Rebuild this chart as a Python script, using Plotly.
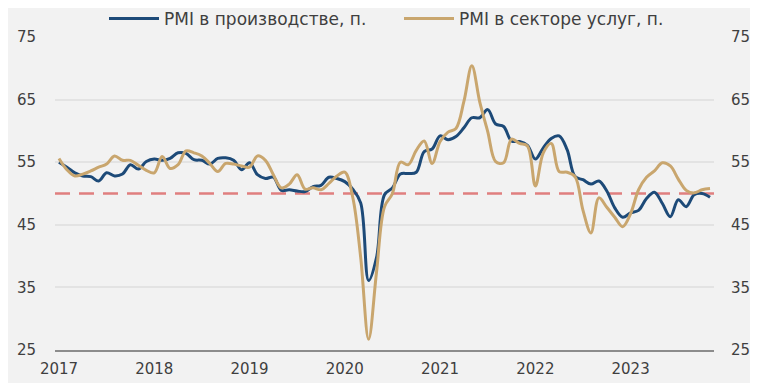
import plotly.graph_objects as go

years = ["2017", "2018", "2019", "2020", "2021", "2022", "2023"]
months_per_year = 12

pmi_manufacturing = [
    55.0, 54.2, 53.3, 52.8, 52.7, 52.0, 53.3, 52.8, 53.1, 54.6, 53.9, 55.1,
    55.5, 55.3, 55.6, 56.5, 56.4, 55.4, 55.3, 54.7, 55.6, 55.7, 55.3, 53.8,
    54.9, 53.0, 52.4, 52.6, 50.5, 50.6, 50.4, 50.3, 51.1, 51.3, 52.6, 52.4,
    51.9, 50.7, 48.5, 36.1, 39.8, 49.8, 50.9, 53.1, 53.2, 53.4, 56.7, 57.1,
    59.2, 58.6, 59.1, 60.5, 62.1, 62.1, 63.4, 61.1, 60.7, 58.4, 58.3, 57.7,
    55.5, 57.3, 58.8, 59.2, 57.0, 52.7, 52.2, 51.5, 52.0, 50.4, 47.7, 46.2,
    46.9, 47.3, 49.2, 50.2, 48.4, 46.3, 49.0, 47.9, 49.8, 50.0, 49.4,
]
pmi_services = [
    55.6, 53.8, 52.8, 53.1, 53.6, 54.2, 54.7, 56.0, 55.3, 55.3, 54.5, 53.7,
    53.3, 55.9, 54.0, 54.6, 56.8, 56.5, 56.0, 54.8, 53.5, 54.8, 54.7, 54.4,
    54.2, 56.0, 55.3, 53.0, 50.9, 51.5, 53.0, 50.7, 50.9, 50.6, 51.6, 52.8,
    53.4, 49.4, 39.8, 26.7, 37.5, 47.9, 50.0, 55.0, 54.6, 56.9, 58.4, 54.8,
    58.3, 59.8, 60.4, 64.7, 70.4, 64.6, 59.9, 55.1, 54.9, 58.7, 58.0, 57.6,
    51.2, 56.5, 58.0, 53.5, 53.4, 52.7, 47.3, 43.7, 49.3, 47.8, 46.2, 44.7,
    46.8, 50.6, 52.6, 53.6, 54.9, 54.4, 52.3, 50.5, 50.1, 50.6, 50.8,
]
y_ticks = [25, 35, 45, 55, 65, 75]
threshold = 50

name_man = "PMI в производстве, п."
name_srv = "PMI в секторе услуг, п."

x_idx = list(range(len(pmi_manufacturing)))
year_ticks = [i * months_per_year for i in range(len(years))]

BLUE = "#1d4a78"
TAN = "#c9a66e"
BG = "#f2f2f2"
FONT = "DejaVu Sans"
TXT = "#3f3f3f"
FS = 15
W, H = 758, 383

fig = go.Figure()
fig.add_trace(go.Scatter(
    x=x_idx, y=pmi_manufacturing, name=name_man, mode="lines",
    line=dict(color=BLUE, width=3, shape="spline", smoothing=1.0),
))
fig.add_trace(go.Scatter(
    x=x_idx, y=pmi_services, name=name_srv, mode="lines", yaxis="y2",
    line=dict(color=TAN, width=3, shape="spline", smoothing=1.0),
))
fig.add_hline(y=threshold, line=dict(color="#e07f7f", width=2.5, dash="15px,9px"),
              layer="below")

yrange = [min(y_ticks), max(y_ticks)]
fig.update_layout(
    width=W, height=H,
    margin=dict(l=47, r=52, t=29, b=41, autoexpand=False),
    paper_bgcolor=BG, plot_bgcolor=BG,
    font=dict(family=FONT, size=FS, color=TXT),
    showlegend=True,
    legend=dict(orientation="h", x=0.522, xanchor="center", yref="container",
                y=1 - 11 / H, yanchor="middle",
                bgcolor="rgba(0,0,0,0)", font=dict(size=17, color=TXT),
                itemwidth=50, traceorder="normal", tracegroupgap=0,
                entrywidth=230, entrywidthmode="pixels"),
    xaxis=dict(range=[-0.5, len(x_idx) - 0.5], tickvals=year_ticks, ticktext=years,
               showgrid=False, zeroline=False, showline=True, linecolor="#8c8c8c",
               linewidth=1.5, ticks="", ticklabelstandoff=4,
               tickfont=dict(size=FS, color=TXT)),
    yaxis=dict(range=yrange, tickvals=y_ticks, showgrid=True, gridcolor="#e3e3e3",
               gridwidth=1.5, zeroline=False, ticks="", ticklabelstandoff=18,
               tickfont=dict(size=FS, color=TXT)),
    yaxis2=dict(range=yrange, tickvals=y_ticks, overlaying="y", side="right",
                showgrid=False, zeroline=False, ticks="", ticklabelstandoff=16,
                tickfont=dict(size=FS, color=TXT)),
)

fig.write_html("out.html")
